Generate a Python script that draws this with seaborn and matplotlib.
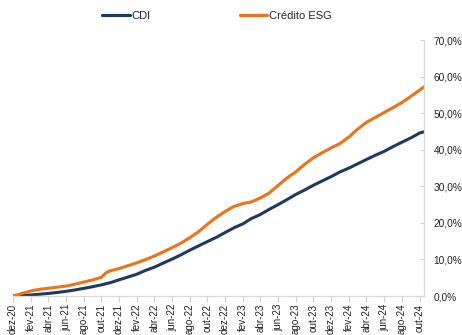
import matplotlib
matplotlib.use("Agg")
import matplotlib.pyplot as plt
from matplotlib.ticker import FuncFormatter
import pandas as pd
import seaborn as sns

# Monthly dates (start of month) from dez-20 to out-24
month_starts = [d.strftime("%Y-%m-%d") for d in pd.date_range("2020-12-01", "2024-10-01", freq="MS")]

# CDI accumulated return (%)
cdi_dates = month_starts + ["2024-10-16"]
cdi_values = [
    0.0, 0.15, 0.28, 0.48, 0.69, 0.96, 1.27, 1.64, 2.08, 2.54, 3.04, 3.64,
    4.42, 5.18, 5.98, 6.96, 7.85, 8.96, 10.07, 11.20, 12.50, 13.71, 14.87, 16.04,
    17.34, 18.66, 19.75, 21.15, 22.27, 23.64, 24.96, 26.30, 27.74, 28.98, 30.27, 31.47,
    32.64, 33.93, 35.00, 36.12, 37.33, 38.47, 39.56, 40.83, 42.05, 43.24, 44.57,
    44.90,
]

# Crédito ESG accumulated return (%)
esg_dates = month_starts[:11] + ["2021-10-18"] + month_starts[11:] + ["2024-10-16"]
esg_values = [
    0.0, 0.7, 1.4, 1.8, 2.1, 2.4, 2.7, 3.2, 3.8, 4.4, 5.1,
    6.4,
    6.9, 7.5, 8.3, 9.1, 9.9, 10.9, 12.0, 13.2, 14.4, 15.9, 17.6, 19.6,
    21.5, 23.1, 24.5, 25.3, 25.7, 26.8, 28.1, 30.2, 32.2, 33.9, 36.0, 37.8,
    39.2, 40.5, 41.7, 43.5, 45.6, 47.5, 48.8, 50.2, 51.5, 52.9, 54.6, 56.3,
    57.2,
]

series_names = ["CDI", "Crédito ESG"]
series_colors = ["#1F3A60", "#EC7318"]

y_ticks = [0, 10, 20, 30, 40, 50, 60, 70]
month_abbr = ["jan", "fev", "mar", "abr", "mai", "jun", "jul", "ago", "set", "out", "nov", "dez"]

df = pd.concat([
    pd.DataFrame({"data": pd.to_datetime(cdi_dates), "valor": cdi_values, "serie": series_names[0]}),
    pd.DataFrame({"data": pd.to_datetime(esg_dates), "valor": esg_values, "serie": series_names[1]}),
], ignore_index=True)

sns.set_style("white")
plt.rcParams["font.family"] = ["Liberation Sans", "DejaVu Sans"]

fig = plt.figure(figsize=(4.62, 3.35), dpi=100)
ax = fig.add_axes([13 / 462, 1 - 296 / 335, (424 - 13) / 462, (296 - 40) / 335])

sns.lineplot(
    data=df, x="data", y="valor", hue="serie", hue_order=series_names,
    palette=series_colors, linewidth=2.2, ax=ax, legend=True,
)

# Axes limits follow the data span
ax.set_xlim(df["data"].min(), df["data"].max())
ax.set_ylim(y_ticks[0], y_ticks[-1])

# Right-hand percentage axis
ax.yaxis.tick_right()
ax.set_yticks(y_ticks)
ax.yaxis.set_major_formatter(FuncFormatter(lambda v, _: f"{v:.1f}%".replace(".", ",")))
ax.tick_params(axis="y", direction="in", length=3, width=0.8, color="#d0d0d0",
               pad=7, labelsize=7.3, labelcolor="#222222", right=True, left=False)

# Bimonthly date ticks with Portuguese month abbreviations
x_ticks = pd.date_range("2020-12-01", "2024-10-01", freq="2MS")
ax.set_xticks(x_ticks)
ax.set_xticklabels([f"{month_abbr[d.month - 1]}-{d.strftime('%y')}" for d in x_ticks],
                   rotation=90, va="top", ha="center")
ax.tick_params(axis="x", direction="out", length=4, width=0.8, color="#d0d0d0",
               pad=1.5, labelsize=7.1, labelcolor="#222222", bottom=True)

for side in ["left", "top"]:
    ax.spines[side].set_visible(False)
for side in ["right", "bottom"]:
    ax.spines[side].set_color("#d9d9d9")
    ax.spines[side].set_linewidth(0.9)

ax.set_xlabel("")
ax.set_ylabel("")
ax.grid(False)

handles, labels = ax.get_legend_handles_labels()
ax.get_legend().remove()
leg = fig.legend(handles, labels, loc="center", bbox_to_anchor=(217 / 462, 1 - 16 / 335),
                 ncol=2, frameon=False, fontsize=8, handlelength=2.5,
                 handletextpad=0.15, columnspacing=8.0)
for line in leg.get_lines():
    line.set_linewidth(2.3)

fig.savefig("out.png", dpi=100)
